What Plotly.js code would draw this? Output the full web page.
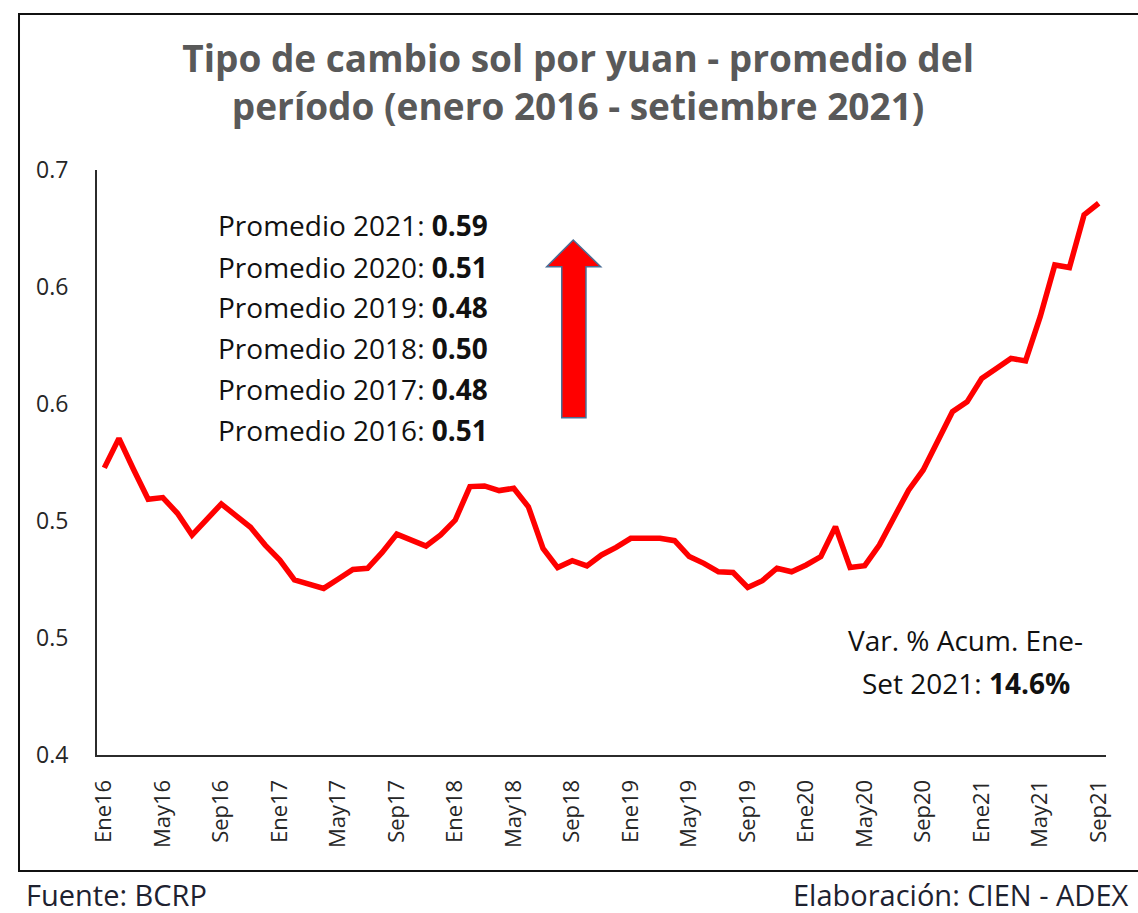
<!DOCTYPE html>
<html>
<head>
<meta charset="utf-8">
<script src="https://cdn.plot.ly/plotly-3.0.1.min.js"></script>
<style>
  html, body { margin: 0; padding: 0; background: #ffffff; }
  #chart { width: 1138px; height: 913px; }
</style>
</head>
<body>
<div id="chart"></div>
<script>
// ---- Data ----
const months = [
  'Ene16','Feb16','Mar16','Abr16','May16','Jun16','Jul16','Ago16','Sep16','Oct16','Nov16','Dic16',
  'Ene17','Feb17','Mar17','Abr17','May17','Jun17','Jul17','Ago17','Sep17','Oct17','Nov17','Dic17',
  'Ene18','Feb18','Mar18','Abr18','May18','Jun18','Jul18','Ago18','Sep18','Oct18','Nov18','Dic18',
  'Ene19','Feb19','Mar19','Abr19','May19','Jun19','Jul19','Ago19','Sep19','Oct19','Nov19','Dic19',
  'Ene20','Feb20','Mar20','Abr20','May20','Jun20','Jul20','Ago20','Sep20','Oct20','Nov20','Dic20',
  'Ene21','Feb21','Mar21','Abr21','May21','Jun21','Jul21','Ago21','Sep21'
];
const solPorYuan = [
  0.5227,0.5353,0.5220,0.5093,0.5100,0.5033,0.4940,0.5004,0.5073,0.5023,0.4973,0.4897,
  0.4833,0.4748,0.4727,0.4712,0.4752,0.4793,0.4798,0.4866,0.4944,0.4920,0.4893,0.4940,
  0.5004,0.5147,0.5150,0.5130,0.5140,0.5061,0.4883,0.4801,0.4830,0.4808,0.4855,0.4887,
  0.4926,0.4926,0.4926,0.4916,0.4848,0.4819,0.4783,0.4780,0.4716,0.4745,0.4798,0.4783,
  0.4812,0.4848,0.4976,0.4801,0.4809,0.4897,0.5018,0.5132,0.5218,0.5346,0.5467,0.5509,
  0.5609,0.5652,0.5695,0.5684,0.5873,0.6094,0.6083,0.6308,0.6358
];
const xTickLabels = ['Ene16','May16','Sep16','Ene17','May17','Sep17','Ene18','May18','Sep18',
  'Ene19','May19','Sep19','Ene20','May20','Sep20','Ene21','May21','Sep21'];
const yTickVals = [0.40, 0.45, 0.50, 0.55, 0.60, 0.65];
const yTickText = ['0.4', '0.5', '0.5', '0.6', '0.6', '0.7'];
const promYears = ['2021', '2020', '2019', '2018', '2017', '2016'];
const promValues = ['0.59', '0.51', '0.48', '0.50', '0.48', '0.51'];
const varAcum = '14.6%';

// ---- Layout helpers ----
const FONT = "'Open Sans', 'Liberation Sans', sans-serif";
const promY = [0.906, 0.834, 0.766, 0.696, 0.626, 0.556];

const annotations = [];
promYears.forEach((yr, i) => {
  annotations.push({
    xref: 'paper', yref: 'paper', x: 0.118, y: promY[i],
    xanchor: 'left', yanchor: 'middle', showarrow: false,
    text: 'Promedio ' + yr + ': <b>' + promValues[i] + '</b>',
    font: { family: FONT, size: 28, color: '#111111' }
  });
});
annotations.push({
  xref: 'paper', yref: 'paper', x: 0.861, y: 0.197,
  xanchor: 'center', yanchor: 'middle', showarrow: false,
  text: 'Var. % Acum. Ene-',
  font: { family: FONT, size: 28, color: '#111111' }
});
annotations.push({
  xref: 'paper', yref: 'paper', x: 0.861, y: 0.123,
  xanchor: 'center', yanchor: 'middle', showarrow: false,
  text: 'Set 2021: <b>' + varAcum + '</b>',
  font: { family: FONT, size: 28, color: '#111111' }
});
annotations.push({
  xref: 'paper', yref: 'paper', x: -0.0724, y: -0.239,
  xanchor: 'left', yanchor: 'middle', showarrow: false,
  text: 'Fuente: BCRP',
  font: { family: FONT, size: 29, color: '#1e2230' }
});
annotations.push({
  xref: 'paper', yref: 'paper', x: 1.0245, y: -0.239,
  xanchor: 'right', yanchor: 'middle', showarrow: false,
  text: 'Elaboración: CIEN - ADEX',
  font: { family: FONT, size: 29, color: '#1e2230' }
});

const shapes = [
  // outer frame
  { type: 'rect', xref: 'paper', yref: 'paper',
    x0: -0.0773, x1: 1.04, y0: -0.1983, y1: 1.2667,
    line: { color: '#111111', width: 2 }, fillcolor: 'rgba(0,0,0,0)', layer: 'below' },
  // red up arrow
  { type: 'path', xref: 'paper', yref: 'paper',
    path: 'M 0.4606 0.5766 L 0.4846 0.5766 L 0.4846 0.8347 L 0.4992 0.8347 L 0.4720 0.8803 L 0.4457 0.8347 L 0.4606 0.8347 Z',
    fillcolor: '#FF0000', line: { color: '#4A6E96', width: 1.5 } }
];

const trace = {
  type: 'scatter', mode: 'lines',
  x: months, y: solPorYuan,
  line: { color: '#FF0000', width: 5.5 },
  hoverinfo: 'x+y'
};

const layout = {
  width: 1138, height: 913,
  margin: { l: 97, r: 32, t: 170, b: 158, pad: 0 },
  paper_bgcolor: '#ffffff', plot_bgcolor: '#ffffff',
  showlegend: false,
  title: {
    text: '<b>Tipo de cambio sol por yuan - promedio del<br>período (enero 2016 - setiembre 2021)</b>',
    font: { family: FONT, size: 37, color: '#595959' },
    x: 0.508, xanchor: 'center', xref: 'container',
    y: 0.921, yanchor: 'top', yref: 'container'
  },
  xaxis: {
    type: 'category',
    range: [-0.5, 68.5],
    tickvals: xTickLabels, ticktext: xTickLabels,
    tickangle: -90,
    tickfont: { family: FONT, size: 22, color: '#262626' },
    ticks: 'outside', ticklen: 14, tickcolor: 'rgba(0,0,0,0)',
    showline: true, linecolor: '#2b2b2b', linewidth: 2,
    showgrid: false, zeroline: false, fixedrange: true
  },
  yaxis: {
    range: [0.40, 0.65],
    tickvals: yTickVals, ticktext: yTickText,
    tickfont: { family: FONT, size: 23, color: '#262626' },
    ticks: 'outside', ticklen: 22, tickcolor: 'rgba(0,0,0,0)',
    showline: true, linecolor: '#2b2b2b', linewidth: 2,
    showgrid: false, zeroline: false, fixedrange: true
  },
  annotations: annotations,
  shapes: shapes
};

Plotly.newPlot('chart', [trace], layout, { displayModeBar: false, staticPlot: true });
</script>
</body>
</html>
